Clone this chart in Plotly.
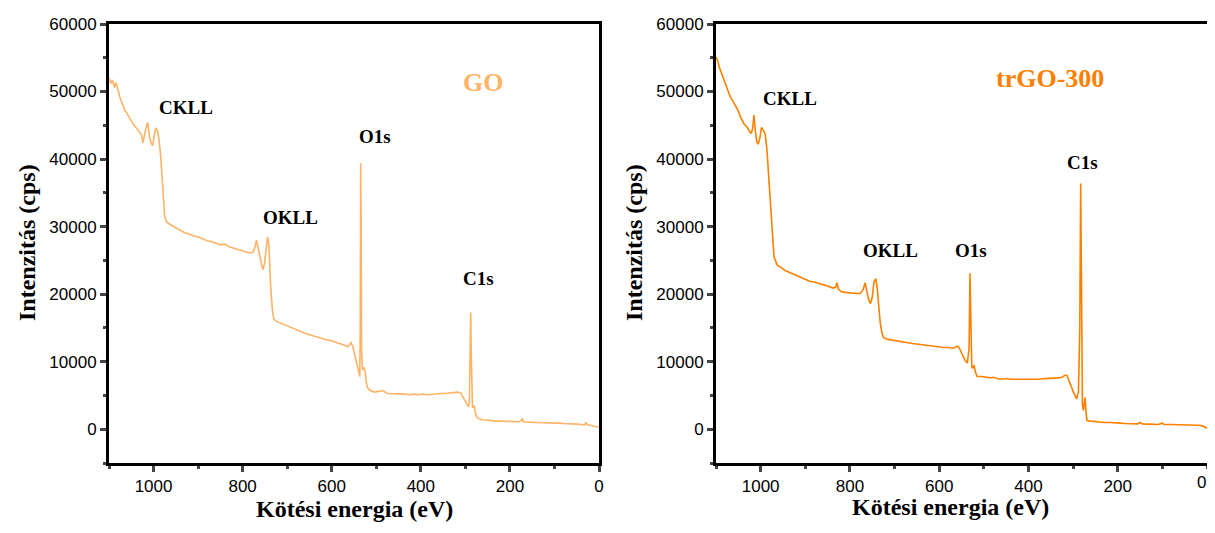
import plotly.graph_objects as go

# ---------------- data ----------------
go_energy = [1100, 1096, 1092, 1088, 1084, 1080, 1075, 1070, 1065, 1060, 1055, 1050, 1045, 1040, 1035,
             1030, 1027, 1024, 1020, 1017, 1013, 1009, 1005, 1002, 998, 995, 991, 988, 984, 980, 977,
             975, 972, 969, 960, 950, 940, 930, 920, 910, 900, 890, 880, 870, 860, 850, 840, 830, 820,
             810, 800, 790, 782, 776, 772, 769, 765, 760, 755, 751, 747, 744, 741, 737, 733, 730, 725,
             718, 708, 700, 690, 680, 670, 660, 650, 640, 630, 620, 610, 600, 590, 580, 570, 564, 560,
             557, 553, 549, 546, 542, 539, 537, 536, 535, 534, 533, 531, 528, 525, 522, 520, 515, 510,
             505, 495, 485, 475, 465, 455, 445, 435, 425, 415, 405, 395, 385, 375, 365, 355, 345, 335,
             325, 317, 310, 305, 300, 296, 293, 291, 289, 288, 287, 285, 284, 282, 280, 278, 276, 273,
             268, 260, 250, 240, 230, 220, 210, 200, 190, 180, 175, 172, 170, 160, 150, 140, 130, 120,
             110, 100, 90, 80, 70, 60, 50, 40, 32, 29, 26, 20, 12, 6, 0]
go_counts = [52000, 51200, 51700, 50600, 51300, 50200, 49000, 48200, 47300, 46800, 46200, 45600, 45100,
             44700, 44300, 44000, 43600, 42400, 43800, 44600, 45400, 43300, 42300, 42000, 43600, 44600,
             44200, 43000, 40500, 36500, 33500, 31500, 30900, 30600, 30200, 29800, 29500, 29100, 28900,
             28600, 28500, 28200, 27900, 27800, 27600, 27300, 27400, 27000, 26800, 26600, 26300, 26200,
             26100, 26300, 27000, 28000, 26800, 25000, 23600, 24500, 27300, 28500, 27200, 21000, 17500,
             16300, 16000, 15800, 15600, 15300, 15000, 14700, 14500, 14200, 14000, 13800, 13500, 13300,
             13200, 13100, 12900, 12700, 12400, 12200, 12500, 12900, 12300, 11200, 10300, 9000, 8100,
             7800, 15000, 39400, 30000, 12000, 8800, 9200, 8500, 6800, 6200, 5800, 5600, 5500, 5600,
             5700, 5300, 5300, 5200, 5300, 5200, 5100, 5200, 5100, 5200, 5100, 5200, 5200, 5300, 5300,
             5400, 5500, 5500, 5300, 4700, 4100, 3600, 3300, 4000, 12000, 17300, 12000, 4000, 3200, 3300,
             3500, 2600, 2000, 1700, 1500, 1400, 1300, 1300, 1200, 1200, 1200, 1100, 1100, 1100, 1300,
             1500, 1100, 1000, 1000, 1000, 1000, 950, 900, 950, 900, 850, 850, 800, 750, 700, 650, 1000,
             650, 600, 500, 400, 300]

trgo_energy = [1100, 1096, 1092, 1088, 1084, 1080, 1076, 1072, 1068, 1064, 1060, 1056, 1053, 1049, 1045,
               1041, 1037, 1033, 1029, 1025, 1021, 1018, 1015, 1012, 1009, 1006, 1002, 998, 994, 990,
               986, 983, 978, 974, 970, 967, 963, 955, 945, 935, 925, 918, 910, 900, 890, 880, 873, 865,
               855, 845, 838, 832, 829, 826, 820, 815, 805, 795, 785, 777, 770, 766, 762, 758, 754, 750,
               746, 742, 739, 735, 732, 728, 725, 715, 700, 690, 680, 670, 660, 650, 640, 630, 620, 610,
               600, 590, 580, 570, 558, 553, 548, 542, 537, 533, 531, 529, 527, 525, 522, 519, 515, 505,
               495, 485, 479, 470, 460, 450, 440, 430, 420, 410, 403, 395, 385, 375, 365, 355, 345, 335,
               325, 318, 314, 310, 305, 300, 296, 292, 288, 285, 283, 281, 279, 277, 275, 273, 271, 269,
               260, 250, 240, 230, 217, 205, 195, 185, 175, 165, 155, 150, 145, 130, 120, 110, 100, 96,
               85, 70, 55, 40, 31, 20, 10, 5, 0]
trgo_counts = [55100, 54500, 53500, 52800, 52100, 51300, 50600, 49800, 49200, 48800, 48300, 47900, 47600,
               47000, 46200, 45600, 45200, 44900, 44600, 44100, 43800, 44500, 46500, 44300, 42700, 42200,
               43000, 44700, 44300, 43800, 41500, 38800, 34000, 29500, 25500, 25000, 24300, 24000, 23500,
               23200, 22900, 22700, 22400, 22100, 21900, 21800, 21700, 21500, 21300, 21000, 20900, 21000,
               21700, 20800, 20400, 20300, 20200, 20200, 20100, 20100, 20700, 21700, 20500, 19200, 18600,
               19500, 21800, 22300, 21000, 17500, 15700, 14200, 13600, 13300, 13100, 13000, 12900, 12800,
               12700, 12600, 12500, 12400, 12400, 12300, 12200, 12100, 12100, 12000, 12300, 11800, 11000,
               10200, 9800, 12000, 23100, 12000, 9300, 9000, 9500, 8500, 7800, 7800, 7700, 7600, 7700,
               7500, 7400, 7500, 7400, 7400, 7300, 7400, 7400, 7300, 7400, 7400, 7500, 7500, 7600, 7600,
               7700, 8000, 8000, 7400, 6500, 5600, 4900, 4500, 5500, 15000, 36400, 15000, 3500, 2800, 3500,
               4700, 2500, 1300, 1200, 1100, 1100, 1000, 1000, 900, 900, 850, 850, 800, 800, 1000, 780,
               750, 700, 700, 900, 700, 700, 700, 700, 650, 650, 600, 500, 350, 150]

peak_labels = ["CKLL", "OKLL", "O1s", "C1s"]
go_label_pos_x = [928, 692, 503, 270]
go_label_pos_y = [47700, 31300, 43300, 22300]
trgo_label_pos_x = [934, 708, 529, 278]
trgo_label_pos_y = [48900, 26500, 26500, 39500]

sample_names = ["GO", "trGO-300"]
sample_name_x = [261, 352]
sample_name_y = [51400, 52000]

x_title = "Kötési energia (eV)"
y_title = "Intenzitás (cps)"
x_ticks = [1000, 800, 600, 400, 200, 0]
y_ticks = [0, 10000, 20000, 30000, 40000, 50000, 60000]

# ---------------- styles ----------------
GO_COLOR = "#FFB366"
TRGO_COLOR = "#FF8000"
SERIF = "Liberation Serif, Times New Roman, serif"
SANS = "Liberation Sans, Arial, sans-serif"

# the page body has an 8px margin; size the figure so it fits the window
OFF = 8
W, H = 1215 - 2 * OFF, 533 - 2 * OFF


def PX(px):
    return min(1.0, max(0.0, (px - OFF) / W))


def PY(py):
    return min(1.0, max(0.0, 1 - (py - OFF) / H))


fig = go.Figure()
fig.add_trace(go.Scatter(x=go_energy, y=go_counts, mode="lines",
                         line=dict(color=GO_COLOR, width=1.6), xaxis="x", yaxis="y",
                         showlegend=False))
fig.add_trace(go.Scatter(x=trgo_energy, y=trgo_counts, mode="lines",
                         line=dict(color=TRGO_COLOR, width=1.6), xaxis="x2", yaxis="y2",
                         showlegend=False))

ydom = [PY(463), PY(24)]


def xax(domain, anchor, ticks):
    return dict(domain=domain, anchor=anchor, range=[1100, 0], autorange=False,
                tickvals=ticks, ticks="outside", ticklen=6, tickwidth=3,
                minor=dict(ticks="outside", ticklen=3, tickwidth=3, dtick=100, tick0=0),
                showline=True, linewidth=3, linecolor="black", mirror=True,
                showgrid=False, zeroline=False, automargin=False,
                tickfont=dict(family=SANS, size=17, color="black"))


def yax(domain, anchor):
    return dict(domain=domain, anchor=anchor, range=[-5000, 60000], autorange=False,
                tickvals=y_ticks, ticks="outside", ticklen=6, tickwidth=3,
                minor=dict(ticks="outside", ticklen=3, tickwidth=3, dtick=5000, tick0=0),
                showline=True, linewidth=3, linecolor="black", mirror=True,
                showgrid=False, zeroline=False, automargin=False,
                tickformat="d",
                tickfont=dict(family=SANS, size=17, color="black"))


annotations = []
for i, lab in enumerate(peak_labels):
    annotations.append(dict(x=go_label_pos_x[i], y=go_label_pos_y[i], xref="x", yref="y",
                            text=f"<b>{lab}</b>", showarrow=False,
                            xanchor="center", yanchor="middle",
                            font=dict(family=SERIF, size=19, color="black")))
    annotations.append(dict(x=trgo_label_pos_x[i], y=trgo_label_pos_y[i], xref="x2", yref="y2",
                            text=f"<b>{lab}</b>", showarrow=False,
                            xanchor="center", yanchor="middle",
                            font=dict(family=SERIF, size=19, color="black")))
annotations.append(dict(x=sample_name_x[0], y=sample_name_y[0], xref="x", yref="y",
                        text=f"<b>{sample_names[0]}</b>", showarrow=False,
                        xanchor="center", yanchor="middle",
                        font=dict(family=SERIF, size=26, color=GO_COLOR)))
annotations.append(dict(x=sample_name_x[1], y=sample_name_y[1], xref="x2", yref="y2",
                        text=f"<b>{sample_names[1]}</b>", showarrow=False,
                        xanchor="center", yanchor="middle",
                        font=dict(family=SERIF, size=26, color=TRGO_COLOR)))
# the last tick label of the right panel sits on the figure edge; draw it as text
annotations.append(dict(x=x_ticks[-1], y=PY(482), xref="x2", yref="paper",
                        text=str(x_ticks[-1]), showarrow=False,
                        xanchor="right", yanchor="middle", borderpad=0,
                        font=dict(family=SANS, size=17, color="black")))
# axis titles
for xc, yc in [(355, 509), (950, 507)]:
    annotations.append(dict(x=PX(xc), y=PY(yc), xref="paper", yref="paper",
                            text=f"<b>{x_title}</b>", showarrow=False,
                            xanchor="center", yanchor="middle",
                            font=dict(family=SERIF, size=24, color="black")))
for xc in [27, 634]:
    annotations.append(dict(x=PX(xc), y=PY(243), xref="paper", yref="paper",
                            text=f"<b>{y_title}</b>", showarrow=False, textangle=-90,
                            xanchor="center", yanchor="middle",
                            font=dict(family=SERIF, size=24, color="black")))

fig.update_layout(
    width=W, height=H,
    margin=dict(l=0, r=0, t=0, b=0),
    paper_bgcolor="white", plot_bgcolor="white",
    xaxis=xax([PX(109), PX(599)], "y", x_ticks),
    yaxis=yax(ydom, "x"),
    xaxis2=xax([PX(716), PX(1207)], "y2", x_ticks[:-1]),
    yaxis2=yax(ydom, "x2"),
    annotations=annotations,
)

fig.write_html("out.html")
